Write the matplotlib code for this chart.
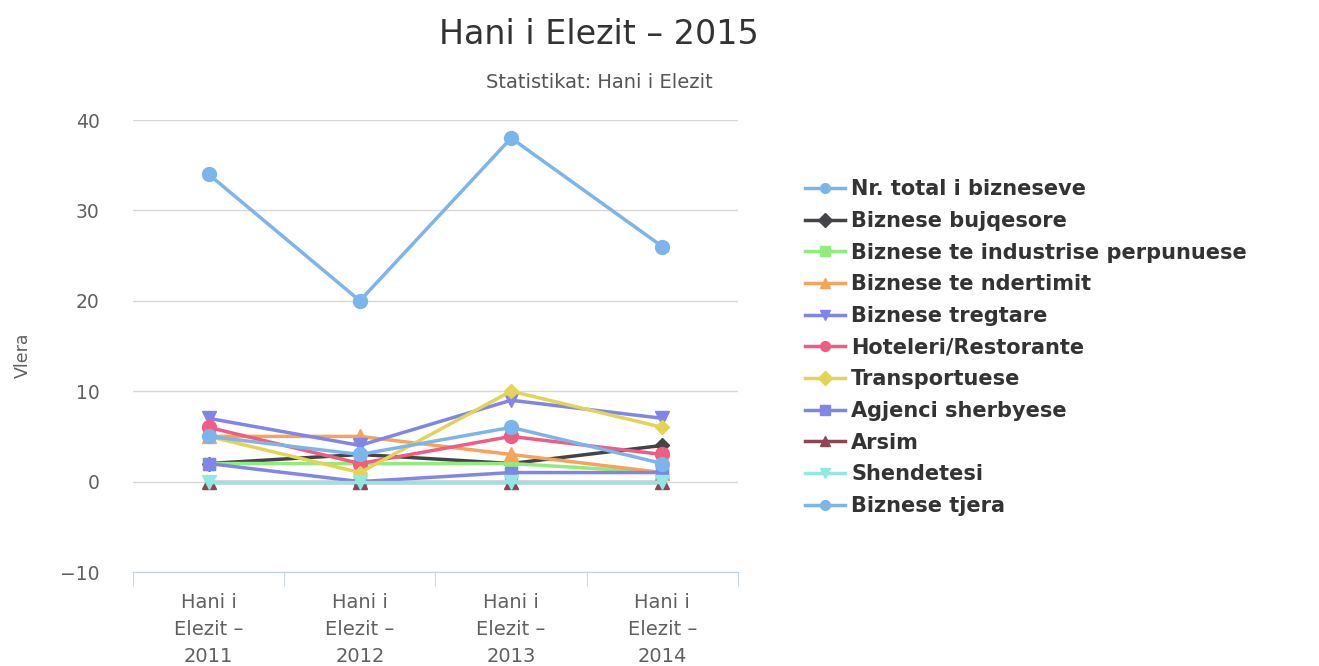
import matplotlib
matplotlib.use("Agg")
import matplotlib.pyplot as plt

categories = ["Hani i\nElezit –\n2011", "Hani i\nElezit –\n2012", "Hani i\nElezit –\n2013", "Hani i\nElezit –\n2014"]

nr_total = [34, 20, 38, 26]
bujqesore = [2, 3, 2, 4]
industrise = [2, 2, 2, 1]
ndertimit = [5, 5, 3, 1]
tregtare = [7, 4, 9, 7]
hoteleri = [6, 2, 5, 3]
transportuese = [5, 1, 10, 6]
agjenci = [2, 0, 1, 1]
arsim = [0, 0, 0, 0]
shendetesi = [0, 0, 0, 0]
tjera = [5, 3, 6, 2]

series_names = ["Nr. total i bizneseve", "Biznese bujqesore", "Biznese te industrise perpunuese",
                "Biznese te ndertimit", "Biznese tregtare", "Hoteleri/Restorante", "Transportuese",
                "Agjenci sherbyese", "Arsim", "Shendetesi", "Biznese tjera"]
series_values = [nr_total, bujqesore, industrise, ndertimit, tregtare, hoteleri, transportuese,
                 agjenci, arsim, shendetesi, tjera]

colors = ['#7cb5ec', '#434348', '#90ed7d', '#f7a35c', '#8085e9', '#f15c80', '#e4d354',
          '#8085e8', '#8d4653', '#91e8e1', '#7cb5ec']
markers = ['o', 'D', 's', '^', 'v', 'o', 'D', 's', '^', 'v', 'o']
msizes = [10, 7, 9, 10, 10, 10, 7, 9, 10, 10, 10]

W, H = 1319, 666
fig = plt.figure(figsize=(W / 100, H / 100), dpi=100)
ax = fig.add_axes([133 / W, 1 - 572 / H, (738 - 133) / W, (572 - 120) / H])

x = list(range(len(categories)))
handles = []
for name, vals, c, m, ms in zip(series_names, series_values, colors, markers, msizes):
    ln, = ax.plot(x, vals, color=c, marker=m, markersize=ms, linewidth=2.5, label=name, zorder=3)
    handles.append(ln)

ax.set_xlim(-0.5, 3.5)
ax.set_ylim(-10, 40)
ax.set_yticks([-10, 0, 10, 20, 30, 40])
ax.set_yticklabels(["−10", "0", "10", "20", "30", "40"])
ax.grid(axis='y', color='#d8d8d8', linewidth=1)
ax.set_axisbelow(True)
for s in ['top', 'right', 'left']:
    ax.spines[s].set_visible(False)
ax.spines['bottom'].set_color('#c0d0e0')
ax.tick_params(axis='y', length=0, labelsize=13.5, labelcolor='#606060', pad=24)
ax.set_xticks(x)
ax.set_xticklabels(categories, fontsize=14, color='#606060', linespacing=1.55)
ax.tick_params(axis='x', length=0, pad=15)
ax.set_xticks([-0.5, 0.5, 1.5, 2.5, 3.5], minor=True)
ax.tick_params(axis='x', which='minor', length=10, color='#c0d0e0', direction='out')

ax.set_ylabel("Vlera", fontsize=12.5, color='#606060')
ax.yaxis.set_label_coords(-0.168, 0.48)

fig.text(599 / W, 1 - 34 / H, "Hani i Elezit – 2015", ha='center', va='center', fontsize=24, color='#333333')
fig.text(599 / W, 1 - 83 / H, "Statistikat: Hani i Elezit", ha='center', va='center', fontsize=14, color='#555555')

leg = fig.legend(handles=handles, loc='upper left', bbox_to_anchor=(797 / W, 1 - 171 / H),
                 frameon=False, prop={'weight': 'bold', 'size': 15}, labelcolor='#333333',
                 handlelength=1.9, handletextpad=0.3, labelspacing=0.56, borderaxespad=0)
for h in leg.legend_handles:
    h.set_markersize(7)

fig.savefig("out.png", dpi=100)
